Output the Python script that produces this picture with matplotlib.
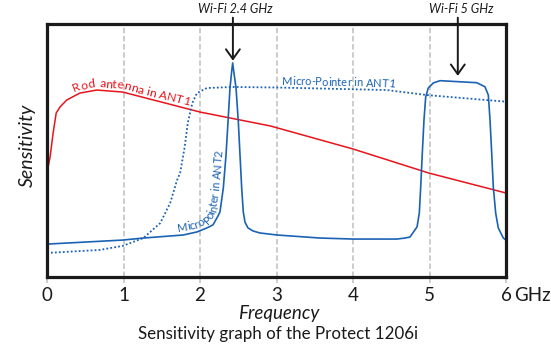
import numpy as np
import matplotlib
matplotlib.use("Agg")
import matplotlib.pyplot as plt

plt.rcParams["font.family"] = ["Lato", "DejaVu Sans"]

# frequency in GHz, sensitivity in relative units (0..100)
rod_f = [0.0, 0.04, 0.08, 0.12, 0.17, 0.26, 0.43, 0.65, 0.99, 2.0, 2.92, 4.0, 4.99, 6.0]
rod_s = [41.1, 47.4, 56.9, 64.8, 67.2, 70.0, 72.7, 73.9, 73.1, 65.2, 59.7, 50.6, 41.1, 33.2]

ant1_f = [0.0, 0.69, 0.99, 1.26, 1.48, 1.61, 1.70, 1.74, 1.80, 1.84, 1.90, 1.96, 2.09, 2.43,
          3.0, 4.44, 4.97, 6.0]
ant1_s = [9.5, 10.7, 12.3, 15.4, 21.3, 29.2, 38.3, 41.1, 51.4, 60.9, 68.8, 72.7, 74.7, 75.1,
          74.9, 73.9, 71.9, 69.3]

ant2_f = [0.0, 0.99, 1.26, 1.78, 1.96, 2.09, 2.17, 2.235, 2.261, 2.305, 2.340, 2.366, 2.392,
          2.416, 2.427, 2.439, 2.471, 2.501, 2.523, 2.545, 2.566, 2.588, 2.627, 2.693, 2.784,
          3.007, 3.569, 4.0, 4.575, 4.680, 4.745, 4.837, 4.867, 4.885, 4.906, 4.928, 4.950,
          4.984, 5.050, 5.137, 5.617, 5.725, 5.769, 5.791, 5.813, 5.834, 5.865, 5.899, 5.965, 6.0]
ant2_s = [13.0, 14.6, 15.4, 16.6, 17.8, 19.4, 20.6, 24.1, 25.7, 35.2, 48.2, 61.3, 74.7,
          81.8, 84.6, 81.8, 74.7, 61.3, 48.2, 35.2, 25.7, 21.7, 19.4, 18.2, 17.4,
          16.6, 15.4, 15.0, 15.0, 15.4, 15.8, 19.8, 25.3, 35.6, 49.0, 62.1, 71.1,
          74.7, 76.7, 77.6, 76.8, 75.2, 71.9, 62.1, 49.0, 35.6, 25.3, 19.4, 15.4, 14.6]

ticks = [0, 1, 2, 3, 4, 5, 6]
tick_labels = ["0", "1", "2", "3", "4", "5", "6"]

wifi_labels = ["Wi-Fi 2.4 GHz", "Wi-Fi 5 GHz"]
wifi_f = [2.43, 5.37]
wifi_tip = [85.5, 79.5]
wifi_text_f = [2.46, 5.41]

RED = "#e8141b"
BLUE = "#1b62b4"
GRID = "#c8c8c8"
INK = "#1a1a1a"

W, H = 551, 356
fig = plt.figure(figsize=(W / 100, H / 100), dpi=100)
ax = fig.add_axes([47 / W, 1 - 277 / H, (506 - 47) / W, (277 - 24) / H])
ax.set_xlim(0, 6)
ax.set_ylim(0, 100)

for sp in ax.spines.values():
    sp.set_linewidth(2.3)
    sp.set_color(INK)

ax.set_xticks(ticks)
ax.set_xticklabels(tick_labels)
ax.set_yticks([])
ax.tick_params(axis="x", length=4, width=1.3, color=GRID, pad=3, labelsize=13.5,
               labelcolor=INK)
for x in ticks[1:-1]:
    ax.axvline(x, color=GRID, lw=1.3, dashes=(3, 1.5), zorder=0)

ax.plot(rod_f, rod_s, color=RED, lw=1.1, solid_joinstyle="round")
ax.plot(ant1_f, ant1_s, color=BLUE, lw=1.3, linestyle=(0, (1, 1.2)))
ax.plot(ant2_f, ant2_s, color=BLUE, lw=1.2, solid_joinstyle="round")

# Wi-Fi markers
for lab, f, tip, tf in zip(wifi_labels, wifi_f, wifi_tip, wifi_text_f):
    ax.text(tf, 105.8, lab, ha="center", va="center", fontsize=9, style="italic",
            color=INK, clip_on=False)
    ax.annotate("", xy=(f, tip), xytext=(f, 102.5), annotation_clip=False,
                arrowprops=dict(arrowstyle="->,head_width=0.5,head_length=0.7",
                                lw=1.4, color=INK, shrinkA=0, shrinkB=0))


def text_along(xs, ys, label, x_start, offset, smooth=6, **kw):
    r = fig.canvas.get_renderer()
    pts = ax.transData.transform(np.column_stack([xs, ys]))
    seg = np.hypot(*np.diff(pts, axis=0).T)
    s = np.concatenate([[0], np.cumsum(seg)])
    x0 = ax.transData.transform((x_start, 0))[0]
    pos = np.interp(x0, pts[:, 0], s)

    def width(t):
        tt = fig.text(0, 0, t, **kw)
        w = tt.get_window_extent(r).width
        tt.remove()
        return w

    base = width("xx")
    for c in label:
        w = width("x" + c + "x") - base
        mid = pos + w / 2
        px = np.interp(mid, s, pts[:, 0])
        py = np.interp(mid, s, pts[:, 1])
        dx = np.interp(mid + smooth, s, pts[:, 0]) - np.interp(mid - smooth, s, pts[:, 0])
        dy = np.interp(mid + smooth, s, pts[:, 1]) - np.interp(mid - smooth, s, pts[:, 1])
        ang = np.arctan2(dy, dx)
        tx = px - offset * np.sin(ang)
        ty = py + offset * np.cos(ang)
        fx, fy = fig.transFigure.inverted().transform((tx, ty))
        fig.text(fx, fy, c, rotation=np.degrees(ang), rotation_mode="anchor",
                 ha="center", va="baseline", **kw)
        pos += w


text_along(rod_f, rod_s, "Rod antenna in ANT1", 0.37, 3, fontsize=8.8, color=RED)
text_along(ant1_f, ant1_s, "Micro-Pointer in ANT1", 3.07, 3, fontsize=8, color=BLUE)
text_along(ant2_f, ant2_s, "Micro-Pointer in ANT2", 1.72, 3.5, smooth=12, fontsize=8,
           color=BLUE)

ax.text(6.1, -4.0, "GHz", ha="left", va="top", fontsize=13.5, color=INK, clip_on=False)

fig.text(27 / W, 1 - 145 / H, "Sensitivity", rotation=90, ha="center", va="center",
         fontsize=14, style="italic", color=INK)
fig.text(279 / W, 1 - 313 / H, "Frequency", ha="center", va="center",
         fontsize=13.5, style="italic", color=INK)
fig.text(278 / W, 1 - 334 / H, "Sensitivity graph of the Protect 1206i", ha="center",
         va="center", fontsize=12.2, color=INK)

fig.savefig("out.png", dpi=100)
